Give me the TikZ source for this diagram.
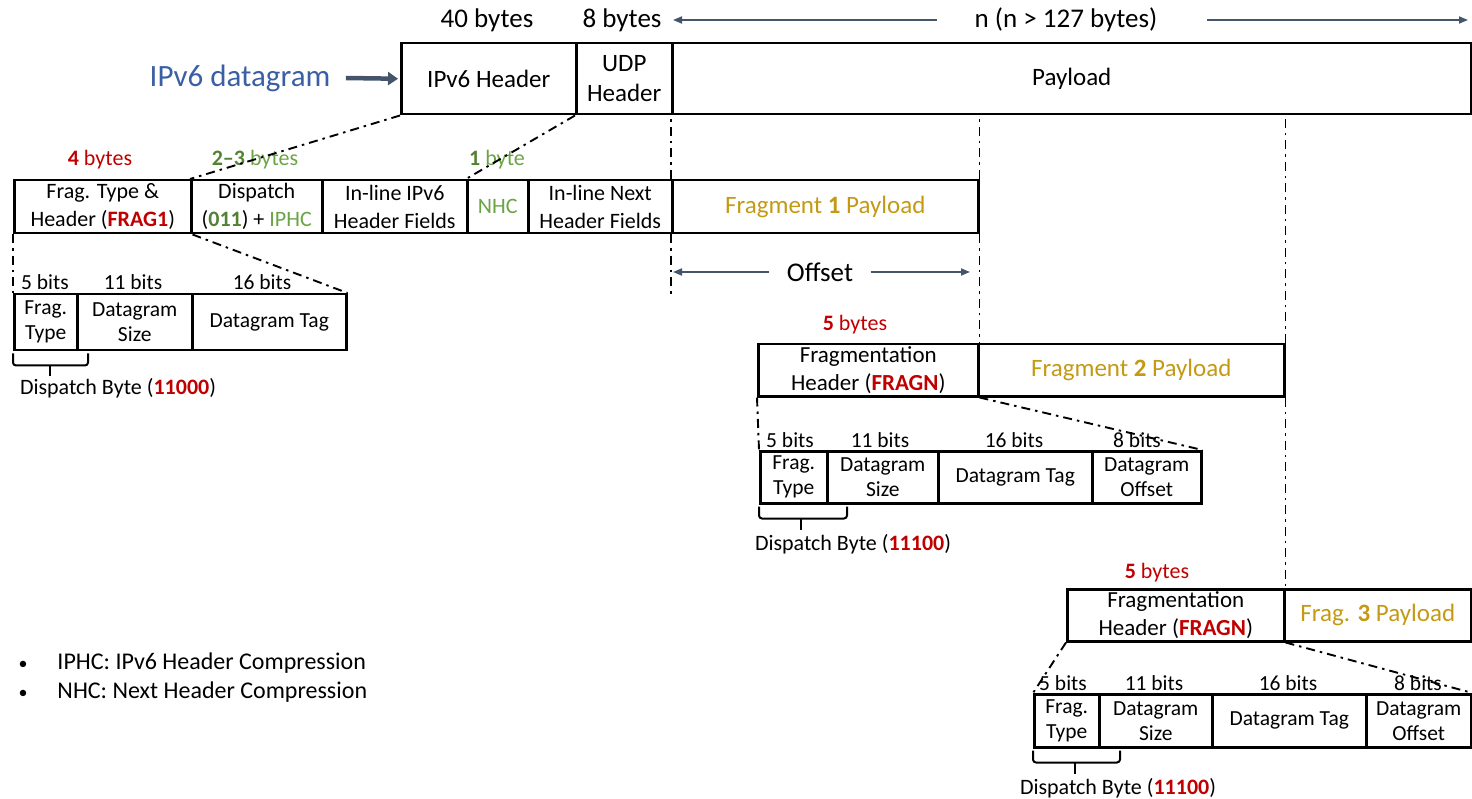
\documentclass[tikz,border=0pt]{standalone}
\usepackage{fontspec}
\setmainfont{Carlito}
\usetikzlibrary{arrows.meta}
\definecolor{fred}{HTML}{C00000}
\definecolor{fgrn}{HTML}{548235}
\definecolor{lgrn}{HTML}{6AA444}
\definecolor{gold}{HTML}{C49A14}
\definecolor{dblue}{HTML}{3B5FA5}
\definecolor{slate}{HTML}{44546A}
\newcommand{\rb}[1]{\textcolor{fred}{\textbf{#1}}}
\begin{document}
\begin{tikzpicture}[x=1pt,y=-1pt,
  fld/.style={draw, line width=2.5pt, inner sep=0pt, anchor=north west, align=center},
  bigtxt/.style={font=\fontsize{25}{30}\selectfont},
  midtxt/.style={font=\fontsize{22}{28}\selectfont},
  smalltxt/.style={font=\fontsize{21.5}{25}\selectfont},
  toplab/.style={font=\fontsize{27}{32}\selectfont},
  bitlab/.style={font=\fontsize{21.5}{25}\selectfont, anchor=base},
  bytelab/.style={font=\fontsize{22}{26}\selectfont},
  dd/.style={line width=1.9pt, dash pattern=on 9pt off 5pt on 2.5pt off 5pt},
  brc/.style={line width=2pt, rounded corners=3pt},
  sarr/.style={draw=slate, line width=1.7pt, -{Triangle[length=9pt,width=7pt]}, fill=slate},
]
\useasboundingbox (0,0) rectangle (1472,799);

% ---- IPv6 datagram ----
\node[toplab] (b40) at (487,20) {40 bytes};
\node[toplab] (b8) at (622,20) {8 bytes};
\node[toplab] (nlab) at (1066,20) {n (n > 127 bytes)};
\coordinate (nl) at (673,20);
\coordinate (nr) at (1468,20);
\draw[sarr] ([xshift=-34pt]nlab.west) -- (nl);
\draw[sarr] ([xshift=46pt]nlab.east) -- (nr);

\node[font=\fontsize{31}{36}\selectfont, text=dblue] (dg) at (240,78) {IPv6 datagram};
\node[fld, bigtxt, minimum width=175pt, minimum height=71pt] (ipv6) at (400,42) {IPv6 Header};
\node[fld, bigtxt, minimum width=96pt, minimum height=71pt] (udp) at (575,42) {UDP\\Header};
\node[fld, bigtxt, minimum width=799pt, minimum height=71pt] (pay) at (671,42) {Payload};
\draw[draw=slate, line width=4.5pt, -{Triangle[length=10pt,width=13pt]}] ([xshift=12pt]dg.east) -- ([xshift=-2pt]ipv6.west);

% ---- first fragment ----
\node[bytelab] (l4) at (100,160) {\rb{4} \textcolor{fred}{bytes}};
\node[bytelab, text=lgrn] (l23) at (255,160) {\textcolor{fgrn}{\textbf{2–3}} bytes};
\node[bytelab, text=lgrn] (l1) at (497,160) {\textcolor{fgrn}{\textbf{1}} byte};

\node[fld, midtxt, minimum width=177pt, minimum height=53pt] (fh1) at (13,179) {Frag. Type \&\\Header (\rb{FRAG1})};
\node[fld, midtxt, minimum width=131pt, minimum height=53pt] (disp) at (190,179) {Dispatch\\(\textcolor{fgrn}{\textbf{011}}) + \textcolor{lgrn}{IPHC}};
\node[fld, midtxt, minimum width=145pt, minimum height=53pt] (inl) at (321,179) {In-line IPv6\\Header Fields};
\node[fld, midtxt, minimum width=61pt, minimum height=53pt, text=lgrn] (nhc) at (466,179) {NHC};
\node[fld, midtxt, minimum width=144pt, minimum height=53pt] (inn) at (527,179) {In-line Next\\Header Fields};
\node[fld, bigtxt, minimum width=306pt, minimum height=53pt, text=gold] (p1) at (671,179) {Fragment \textbf{1} Payload};

\draw[dd] (ipv6.south west) -- (disp.north west);
\draw[dd] (udp.south west) -- (nhc.north west);
\draw[dd] (p1.north west) -- (p1.north west |- pay.south);
\draw[dd] (p1.north east) -- (p1.north east |- pay.south);
\coordinate (o1) at (671,295);
\draw[dd] (p1.south west) -- (o1);

% offset marker
\node[toplab] (offl) at (820,272) {Offset};
\coordinate (ol) at (673,272);
\coordinate (or) at (970,272);
\draw[sarr] ([xshift=-14pt]offl.west) -- (ol);
\draw[sarr] ([xshift=14pt]offl.east) -- (or);

% FRAG1 header fields
\node[fld, smalltxt, minimum width=63pt, minimum height=56pt] (ft1) at (13,293) {Frag.\\Type};
\node[fld, smalltxt, minimum width=115pt, minimum height=56pt] (ds1) at (76,293) {Datagram\\Size};
\node[fld, smalltxt, minimum width=154pt, minimum height=56pt] (tg1) at (191,293) {Datagram Tag};
\node[bitlab] (b1a) at (45,290) {5 bits};
\node[bitlab] (b1b) at (133,290) {11 bits};
\node[bitlab] (b1c) at (262,290) {16 bits};
\draw[dd] (fh1.south west) -- (ft1.north west);
\draw[dd] (fh1.south east) -- (tg1.north east);
\draw[brc] (ft1.south west) ++(0,2) -- ++(0,12) -- ++(75,0) -- ++(0,-12);
\draw[brc] (ft1.south west) ++(37,14) -- ++(0,11);
\node[bytelab] (db1) at (118,388) {Dispatch Byte (\rb{11000})};

% ---- second fragment ----
\node[bytelab] (l5a) at (855,325) {\rb{5} \textcolor{fred}{bytes}};
\node[fld, minimum width=220pt, minimum height=52pt, font=\fontsize{23}{28}\selectfont] (fh2) at (757,343) {Fragmentation\\Header (\rb{FRAGN})};
\node[fld, bigtxt, minimum width=306pt, minimum height=52pt, text=gold] (p2) at (977,343) {Fragment \textbf{2} Payload};
\draw[dd] (p1.south east) -- (fh2.north east);
\draw[dd] (p2.north east) -- (p2.north east |- pay.south);

\node[fld, smalltxt, minimum width=67pt, minimum height=52pt] (ft2) at (759,450) {Frag.\\Type};
\node[fld, smalltxt, minimum width=111pt, minimum height=52pt] (ds2) at (826,450) {Datagram\\Size};
\node[fld, smalltxt, minimum width=154pt, minimum height=52pt] (tg2) at (937,450) {Datagram Tag};
\node[fld, smalltxt, minimum width=109pt, minimum height=52pt] (of2) at (1091,450) {Datagram\\Offset};
\node[bitlab] (b2a) at (790,447) {5 bits};
\node[bitlab] (b2b) at (880,447) {11 bits};
\node[bitlab] (b2c) at (1014,447) {16 bits};
\node[bitlab] (b2d) at (1137,447) {8 bits};
\draw[dd] (fh2.south west) -- (ft2.north west);
\draw[dd] (fh2.south east) -- (of2.north east);
\draw[brc] (ft2.south west) ++(0,2) -- ++(0,12) -- ++(88,0) -- ++(0,-12);
\draw[brc] (ft2.south west) ++(42,14) -- ++(0,11);
\node[bytelab] (db2) at (853,544) {Dispatch Byte (\rb{11100})};

% ---- third fragment ----
\node[bytelab] (l5b) at (1157,573) {\rb{5} \textcolor{fred}{bytes}};
\node[fld, minimum width=217pt, minimum height=52pt, font=\fontsize{23}{28}\selectfont] (fh3) at (1066,588) {Fragmentation\\Header (\rb{FRAGN})};
\node[fld, bigtxt, minimum width=187pt, minimum height=52pt, text=gold] (p3) at (1283,588) {Frag. \textbf{3} Payload};
\draw[dd] (p2.south east) -- (fh3.north east);

\node[fld, smalltxt, minimum width=65pt, minimum height=53pt] (ft3) at (1033,693) {Frag.\\Type};
\node[fld, smalltxt, minimum width=113pt, minimum height=53pt] (ds3) at (1098,693) {Datagram\\Size};
\node[fld, smalltxt, minimum width=154pt, minimum height=53pt] (tg3) at (1211,693) {Datagram Tag};
\node[fld, smalltxt, minimum width=105pt, minimum height=53pt] (of3) at (1365,693) {Datagram\\Offset};
\node[bitlab] (b3a) at (1063,690) {5 bits};
\node[bitlab] (b3b) at (1154,690) {11 bits};
\node[bitlab] (b3c) at (1288,690) {16 bits};
\node[bitlab] (b3d) at (1418,690) {8 bits};
\draw[dd] (fh3.south west) -- (ft3.north west);
\draw[dd] (fh3.south east) -- (of3.north east);
\draw[brc] (ft3.south west) ++(0,2) -- ++(0,12) -- ++(87,0) -- ++(0,-12);
\draw[brc] (ft3.south west) ++(42,14) -- ++(0,11);
\node[bytelab] (db3) at (1118,788) {Dispatch Byte (\rb{11100})};

% ---- abbreviations ----
\node[anchor=west, font=\fontsize{24}{29}\selectfont, align=left] (leg) at (15,678) {%
  \begin{tabular}{@{}l@{\hspace{30pt}}l@{}}
  {\fontsize{18}{29}\selectfont •} & IPHC: IPv6 Header Compression\\
  {\fontsize{18}{29}\selectfont •} & NHC: Next Header Compression
  \end{tabular}};
\end{tikzpicture}
\end{document}
